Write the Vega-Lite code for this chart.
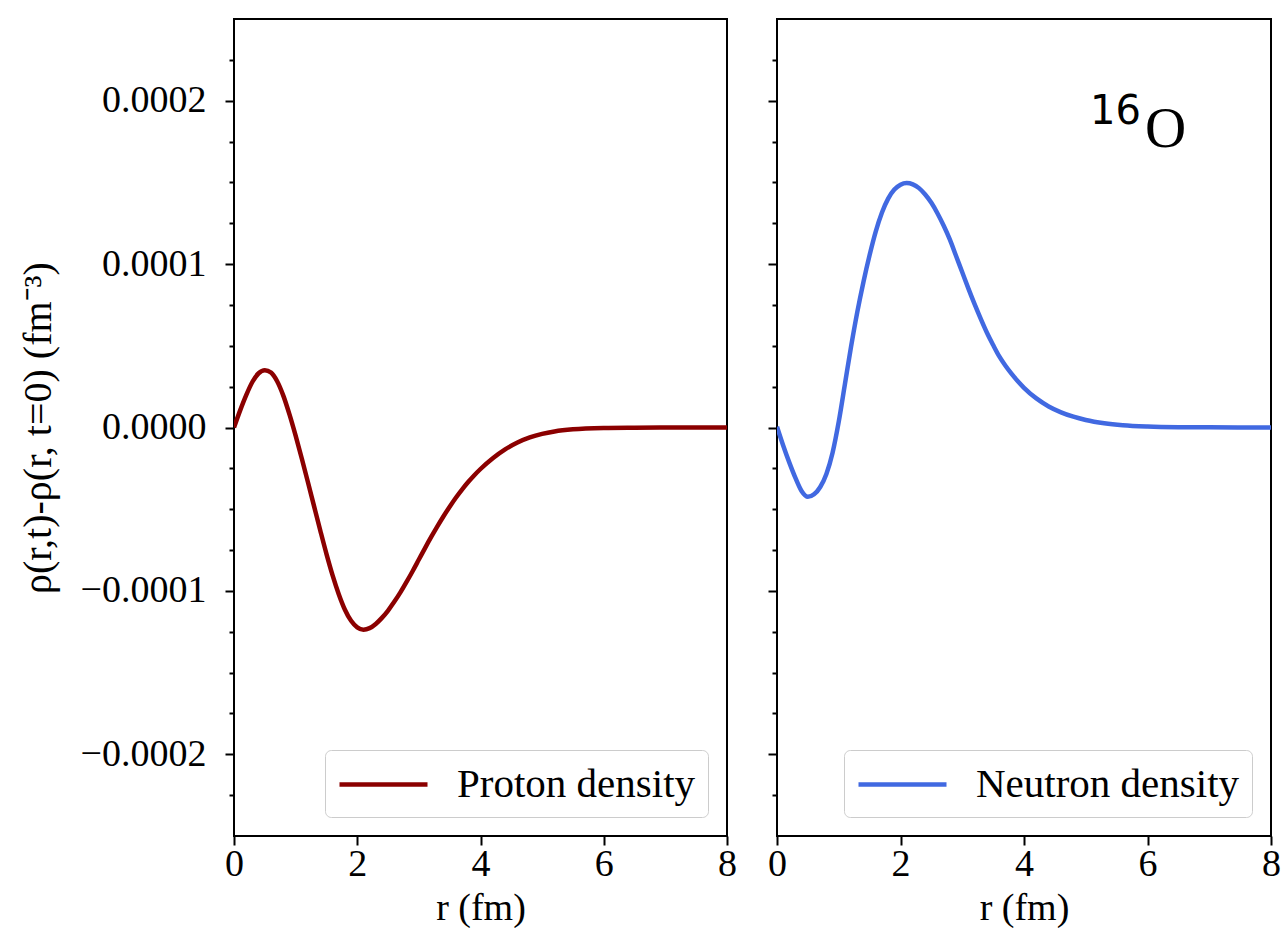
{
  "$schema": "https://vega.github.io/schema/vega-lite/v6.json",
  "background": "white",
  "padding": {"left": 17, "top": 18, "right": 5, "bottom": 0},
  "config": {
    "font": "Liberation Serif",
    "view": {"stroke": "#000000", "strokeWidth": 2},
    "axis": {
      "grid": false,
      "domain": false,
      "tickColor": "#000000",
      "tickWidth": 2,
      "labelColor": "#000000",
      "labelFont": "Liberation Serif",
      "labelFontSize": 38,
      "titleFont": "Liberation Serif",
      "titleFontSize": 38,
      "titleFontWeight": "normal",
      "titleColor": "#000000",
      "labelOverlap": false,
      "labelFlush": false
    },
    "legend": {
      "symbolType": "M-1,0H3.4",
      "symbolSize": 1600,
      "symbolStrokeWidth": 4.5,
      "labelFont": "Liberation Serif",
      "labelFontSize": 41,
      "labelColor": "#000000",
      "labelOffset": 75,
      "labelLimit": 0,
      "padding": 12,
      "strokeColor": "#cccccc",
      "fillColor": "#ffffff",
      "cornerRadius": 6
    }
  },
  "datasets": {
    "proton": [
      {"r": 0.0, "v": 0.0},
      {"r": 0.1, "v": 0.0000105},
      {"r": 0.2, "v": 0.0000200},
      {"r": 0.3, "v": 0.0000280},
      {"r": 0.4, "v": 0.0000332},
      {"r": 0.5, "v": 0.0000351},
      {"r": 0.6, "v": 0.0000336},
      {"r": 0.7, "v": 0.0000283},
      {"r": 0.8, "v": 0.0000195},
      {"r": 0.9, "v": 0.0000080},
      {"r": 1.0, "v": -0.0000050},
      {"r": 1.1, "v": -0.0000190},
      {"r": 1.2, "v": -0.0000335},
      {"r": 1.3, "v": -0.0000483},
      {"r": 1.4, "v": -0.0000630},
      {"r": 1.5, "v": -0.0000773},
      {"r": 1.6, "v": -0.0000905},
      {"r": 1.7, "v": -0.0001020},
      {"r": 1.8, "v": -0.0001115},
      {"r": 1.9, "v": -0.0001183},
      {"r": 2.0, "v": -0.0001223},
      {"r": 2.1, "v": -0.0001237},
      {"r": 2.2, "v": -0.0001228},
      {"r": 2.3, "v": -0.0001202},
      {"r": 2.4, "v": -0.0001165},
      {"r": 2.5, "v": -0.0001120},
      {"r": 2.6, "v": -0.0001067},
      {"r": 2.7, "v": -0.0001009},
      {"r": 2.8, "v": -0.0000945},
      {"r": 2.9, "v": -0.0000878},
      {"r": 3.0, "v": -0.0000808},
      {"r": 3.1, "v": -0.0000738},
      {"r": 3.2, "v": -0.0000670},
      {"r": 3.3, "v": -0.0000605},
      {"r": 3.4, "v": -0.0000543},
      {"r": 3.5, "v": -0.0000485},
      {"r": 3.6, "v": -0.0000430},
      {"r": 3.7, "v": -0.0000380},
      {"r": 3.8, "v": -0.0000334},
      {"r": 3.9, "v": -0.0000292},
      {"r": 4.0, "v": -0.0000254},
      {"r": 4.2, "v": -0.0000188},
      {"r": 4.4, "v": -0.0000134},
      {"r": 4.6, "v": -0.0000092},
      {"r": 4.8, "v": -0.0000061},
      {"r": 5.0, "v": -0.0000039},
      {"r": 5.2, "v": -0.0000024},
      {"r": 5.5, "v": -0.0000011},
      {"r": 6.0, "v": -0.0000003},
      {"r": 6.5, "v": -0.0000001},
      {"r": 7.0, "v": 0.0},
      {"r": 8.0, "v": 0.0}
    ],
    "neutron": [
      {"r": 0.0, "v": 0.0000005},
      {"r": 0.1, "v": -0.0000110},
      {"r": 0.2, "v": -0.0000215},
      {"r": 0.3, "v": -0.0000310},
      {"r": 0.4, "v": -0.0000390},
      {"r": 0.5, "v": -0.0000424},
      {"r": 0.6, "v": -0.0000409},
      {"r": 0.7, "v": -0.0000364},
      {"r": 0.8, "v": -0.0000284},
      {"r": 0.9, "v": -0.0000154},
      {"r": 1.0, "v": 0.0000036},
      {"r": 1.1, "v": 0.0000266},
      {"r": 1.2, "v": 0.0000496},
      {"r": 1.3, "v": 0.0000706},
      {"r": 1.4, "v": 0.0000891},
      {"r": 1.5, "v": 0.0001056},
      {"r": 1.6, "v": 0.0001201},
      {"r": 1.7, "v": 0.0001316},
      {"r": 1.8, "v": 0.0001401},
      {"r": 1.9, "v": 0.0001456},
      {"r": 2.0, "v": 0.0001486},
      {"r": 2.1, "v": 0.0001496},
      {"r": 2.2, "v": 0.0001488},
      {"r": 2.3, "v": 0.0001465},
      {"r": 2.4, "v": 0.0001426},
      {"r": 2.5, "v": 0.0001375},
      {"r": 2.6, "v": 0.0001310},
      {"r": 2.7, "v": 0.0001235},
      {"r": 2.8, "v": 0.0001150},
      {"r": 2.9, "v": 0.0001050},
      {"r": 3.0, "v": 0.0000950},
      {"r": 3.1, "v": 0.0000850},
      {"r": 3.2, "v": 0.0000755},
      {"r": 3.3, "v": 0.0000665},
      {"r": 3.4, "v": 0.0000580},
      {"r": 3.5, "v": 0.0000505},
      {"r": 3.6, "v": 0.0000435},
      {"r": 3.7, "v": 0.0000378},
      {"r": 3.8, "v": 0.0000328},
      {"r": 3.9, "v": 0.0000283},
      {"r": 4.0, "v": 0.0000243},
      {"r": 4.2, "v": 0.0000178},
      {"r": 4.4, "v": 0.0000129},
      {"r": 4.6, "v": 0.0000093},
      {"r": 4.8, "v": 0.0000066},
      {"r": 5.0, "v": 0.0000046},
      {"r": 5.3, "v": 0.0000026},
      {"r": 5.6, "v": 0.0000014},
      {"r": 6.0, "v": 0.0000006},
      {"r": 6.5, "v": 0.0000002},
      {"r": 7.0, "v": 0.0000001},
      {"r": 8.0, "v": 0.0}
    ],
    "labels": [
      {"t": "16", "r": 5.07, "v": 0.0001855, "font": "sans"},
      {"t": "O", "r": 5.96, "v": 0.0001715, "font": "serif"}
    ]
  },
  "spacing": 50,
  "bounds": "flush",
  "resolve": {"scale": {"x": "independent", "y": "independent", "color": "independent"}},
  "hconcat": [
    {
      "width": 493,
      "height": 817,
      "data": {"name": "proton"},
      "mark": {"type": "line", "strokeWidth": 4.5, "interpolate": "monotone", "clip": true},
      "encoding": {
        "x": {"field": "r", "type": "quantitative", "scale": {"domain": [0, 8], "nice": false},
          "axis": {"values": [0, 2, 4, 6, 8], "format": "d", "tickSize": 9, "labelPadding": 0, "title": "r (fm)", "titlePadding": 6}},
        "y": {"field": "v", "type": "quantitative", "scale": {"domain": [-0.00025, 0.00025], "nice": false, "zero": false},
          "axis": {
            "values": [-0.000225, -0.0002, -0.000175, -0.00015, -0.000125, -0.0001, -0.000075, -0.00005, -0.000025, 0, 0.000025, 0.00005, 0.000075, 0.0001, 0.000125, 0.00015, 0.000175, 0.0002, 0.000225],
            "tickSize": {"condition": {"test": "abs(round(datum.value*100000)) % 10 == 0", "value": 9}, "value": 5},
            "labelExpr": "abs(round(datum.value*100000)) % 10 == 0 ? (datum.value < 0 ? '−' : '') + format(abs(datum.value), '.4f') : ''",
            "labelPadding": 19,
            "title": "ρ(r,t)-ρ(r, t=0) (fm⁻³)",
            "titleFontSize": 40,
            "titlePadding": 22
          }},
        "color": {"datum": "Proton density", "type": "nominal", "scale": {"range": ["#8b0000"]},
          "legend": {"orient": "bottom-right", "offset": 19, "title": null}}
      }
    },
    {
      "width": 494,
      "height": 817,
      "layer": [
        {
          "data": {"name": "neutron"},
          "mark": {"type": "line", "strokeWidth": 4.5, "interpolate": "monotone", "clip": true},
          "encoding": {
            "x": {"field": "r", "type": "quantitative", "scale": {"domain": [0, 8], "nice": false},
              "axis": {"values": [0, 2, 4, 6, 8], "format": "d", "tickSize": 9, "labelPadding": 0, "title": "r (fm)", "titlePadding": 6}},
            "y": {"field": "v", "type": "quantitative", "scale": {"domain": [-0.00025, 0.00025], "nice": false, "zero": false},
              "axis": {
                "values": [-0.000225, -0.0002, -0.000175, -0.00015, -0.000125, -0.0001, -0.000075, -0.00005, -0.000025, 0, 0.000025, 0.00005, 0.000075, 0.0001, 0.000125, 0.00015, 0.000175, 0.0002, 0.000225],
                "tickSize": {"condition": {"test": "abs(round(datum.value*100000)) % 10 == 0", "value": 9}, "value": 5},
                "labels": false,
                "title": null
              }},
            "color": {"datum": "Neutron density", "type": "nominal", "scale": {"range": ["#4169e1"]},
              "legend": {"orient": "bottom-right", "offset": 19, "title": null}}
          }
        },
        {
          "data": {"name": "labels"},
          "transform": [{"filter": "datum.font == 'sans'"}],
          "mark": {"type": "text", "font": "DejaVu Sans", "fontSize": 40, "align": "left", "baseline": "alphabetic", "color": "#000000"},
          "encoding": {
            "x": {"field": "r", "type": "quantitative"},
            "y": {"field": "v", "type": "quantitative"},
            "text": {"field": "t"}
          }
        },
        {
          "data": {"name": "labels"},
          "transform": [{"filter": "datum.font == 'serif'"}],
          "mark": {"type": "text", "font": "Liberation Serif", "fontSize": 57, "align": "left", "baseline": "alphabetic", "color": "#000000"},
          "encoding": {
            "x": {"field": "r", "type": "quantitative"},
            "y": {"field": "v", "type": "quantitative"},
            "text": {"field": "t"}
          }
        }
      ]
    }
  ]
}
